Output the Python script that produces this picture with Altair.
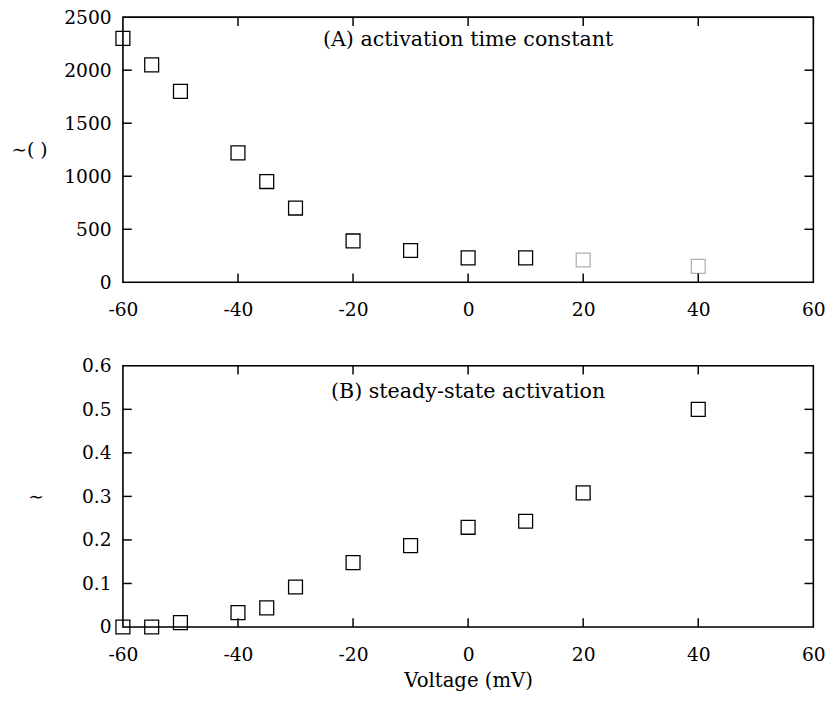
import altair as alt
import pandas as pd

# ---- data ----
voltage = [-60, -55, -50, -40, -35, -30, -20, -10, 0, 10, 20, 40]
tau_values = [2300, 2050, 1800, 1220, 950, 700, 390, 300, 230, 230, 210, 150]
tau_faint = [0, 0, 0, 0, 0, 0, 0, 0, 0, 0, 1, 1]
minf_values = [0.0, 0.0, 0.01, 0.033, 0.044, 0.092, 0.148, 0.187, 0.229, 0.243, 0.308, 0.5]
minf_faint = [0] * 12

x_ticks = [-60, -40, -20, 0, 20, 40, 60]
x_inner_ticks = [-40, -20, 0, 20, 40]
tau_ticks = [0, 500, 1000, 1500, 2000, 2500]
tau_inner_ticks = [500, 1000, 1500, 2000]
minf_ticks = [0, 0.1, 0.2, 0.3, 0.4, 0.5, 0.6]
minf_inner_ticks = [0.1, 0.2, 0.3, 0.4, 0.5]

label_A = "(A) activation time constant"
label_B = "(B) steady-state activation"
ytitle_A = "∼( )"
ytitle_B = "∼"
xtitle = "Voltage (mV)"

FONT = "DejaVu Serif"
W = 703
TICK = 9


def panel(values, faint, ydom, yticks, yinner, label, label_dy, ytitle, ytitle_x,
          height, show_xtitle, ylabel_expr):
    df = pd.DataFrame({"v": voltage, "y": values, "faint": faint})
    xs = alt.Scale(domain=[-60, 60], nice=False, zero=False)
    ys = alt.Scale(domain=ydom, nice=False, zero=False)

    xaxis_kw = dict(values=x_ticks, ticks=False, domain=False, grid=False,
                    labelPadding=19, labelFontSize=19, labelFont=FONT,
                    labelColor="black", labelFlush=False,
                    labelExpr="'' + datum.value")
    if show_xtitle:
        xaxis_kw.update(title=xtitle, titleFont=FONT, titleFontSize=20,
                        titleFontWeight="normal", titlePadding=7, titleColor="black")
    else:
        xaxis_kw.update(title="")
    xaxis = alt.Axis(**xaxis_kw)
    yaxis = alt.Axis(values=yticks, ticks=False, domain=False, grid=False,
                     labelPadding=12, labelFontSize=19, labelFont=FONT,
                     labelColor="black", labelExpr=ylabel_expr, labelFlush=False,
                     title=ytitle, titleAngle=0, titleX=ytitle_x,
                     titleY=height / 2, titleAlign="left", titleBaseline="middle",
                     titleFont=FONT, titleFontSize=19, titleFontWeight="normal",
                     titleColor="black")

    pts = alt.Chart(df).mark_point(shape="square", filled=False, size=200,
                                   strokeWidth=1.3, color="black").encode(
        x=alt.X("v:Q", scale=xs, axis=xaxis),
        y=alt.Y("y:Q", scale=ys, axis=yaxis),
        opacity=alt.Opacity("faint:Q", scale=alt.Scale(domain=[0, 1], range=[1, 0.3]),
                            legend=None),
    )

    # frame drawn as a mark over the plot edges
    one = pd.DataFrame({"k": [0]})
    frame = alt.Chart(one).mark_rect(filled=False, color="black", strokeWidth=1.6).encode(
        x=alt.datum(-60, scale=xs, axis=None), x2=alt.datum(60),
        y=alt.datum(ydom[0], scale=ys, axis=None), y2=alt.datum(ydom[1]))

    # inward tick marks on all four sides, placed through the same scales
    ydf = pd.DataFrame({"t": yinner})
    xdf = pd.DataFrame({"t": x_inner_ticks})
    tk = dict(size=TICK, thickness=1.5, color="black", opacity=1)
    tL = alt.Chart(ydf).mark_tick(orient="horizontal", xOffset=TICK / 2, **tk).encode(
        x=alt.datum(-60, scale=xs, axis=None), y=alt.Y("t:Q", scale=ys, axis=None))
    tR = alt.Chart(ydf).mark_tick(orient="horizontal", xOffset=-TICK / 2, **tk).encode(
        x=alt.datum(60, scale=xs, axis=None), y=alt.Y("t:Q", scale=ys, axis=None))
    tB = alt.Chart(xdf).mark_tick(orient="vertical", yOffset=-TICK / 2, **tk).encode(
        x=alt.X("t:Q", scale=xs, axis=None), y=alt.datum(ydom[0], scale=ys, axis=None))
    tT = alt.Chart(xdf).mark_tick(orient="vertical", yOffset=TICK / 2, **tk).encode(
        x=alt.X("t:Q", scale=xs, axis=None), y=alt.datum(ydom[1], scale=ys, axis=None))

    txt = alt.Chart(pd.DataFrame({"label": [label]})).mark_text(
        font=FONT, fontSize=21, dy=label_dy, baseline="middle", align="center",
        color="black").encode(
        x=alt.datum(0, scale=xs, axis=None), y=alt.datum(ydom[1], scale=ys, axis=None),
        text="label:N")

    return alt.layer(pts, frame, tL, tR, tB, tT, txt).resolve_scale(
        x="independent", y="independent").resolve_axis(
        x="independent", y="independent").properties(width=W, height=height)


pA = panel(tau_values, tau_faint, [0, 2500], tau_ticks, tau_inner_ticks, label_A, 23,
           ytitle_A, -114, 270, False, "'' + datum.value")
pB = panel(minf_values, minf_faint, [0, 0.6], minf_ticks, minf_inner_ticks, label_B, 27,
           ytitle_B, -97, 266, True,
           "datum.value == 0 ? '0' : format(datum.value, '.1f')")

chart = alt.vconcat(pA, pB, spacing=36).properties(
    padding={"left": 2, "top": -7, "right": 5, "bottom": 2}
).configure(background="white")

chart.save("out.html", embed_options={"renderer": "svg", "actions": False})
